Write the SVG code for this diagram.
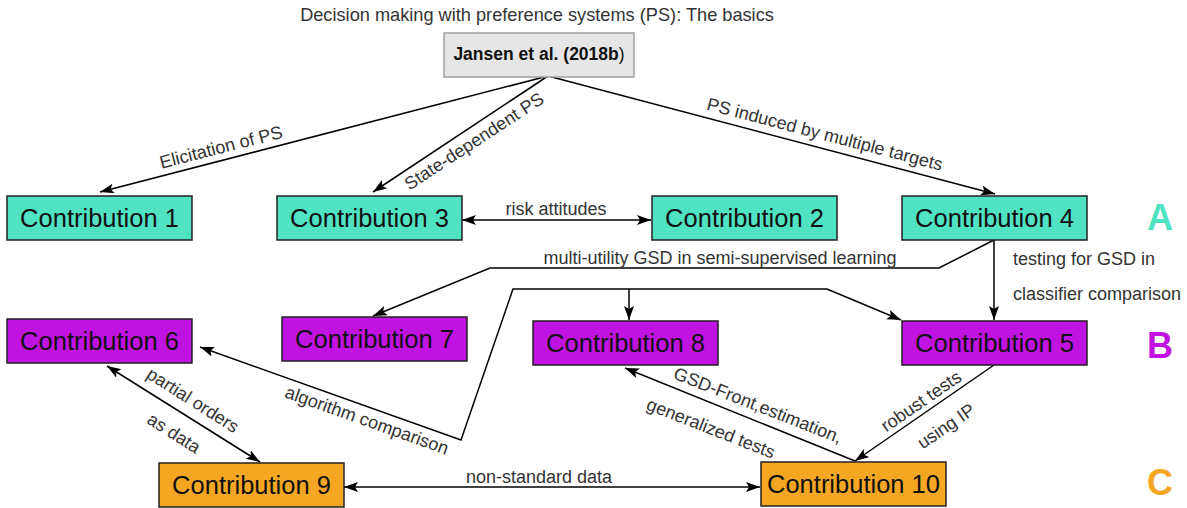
<svg xmlns="http://www.w3.org/2000/svg" width="1187" height="508" viewBox="0 0 1187 508">
<style>
text{font-family:"Liberation Sans",Arial,sans-serif}
.title{font-size:18.2px;fill:#333}
.lbl{font-size:18px;fill:#333}
.nt{font-size:25.5px;fill:#111;text-anchor:middle}
.box{stroke:#222;stroke-width:1.5}
.t{fill:#50e3c2}.p{fill:#c012e0}.o{fill:#f5a623}
.edge{fill:none;stroke:#000;stroke-width:1.5}
.big{font-size:36px;font-weight:bold}
</style>
<defs>
<marker id="ah" markerUnits="userSpaceOnUse" markerWidth="15" markerHeight="11" refX="14" refY="5" orient="auto-start-reverse" viewBox="0 0 15 11">
<path d="M0,0 L14,5 L0,10 L3,5 z" fill="#000"/>
</marker>
</defs>
<rect width="1187" height="508" fill="#fff"/>
<text class="title" x="537" y="21" text-anchor="middle">Decision making with preference systems (PS): The basics</text>

<g id="connectors">
<path class="edge" d="M548,76 L100,192" marker-end="url(#ah)"/>
<path class="edge" d="M548,76 L373,192" marker-end="url(#ah)"/>
<path class="edge" d="M548,76 L995,194" marker-end="url(#ah)"/>
<path class="edge" d="M462,220 L651,220" marker-start="url(#ah)" marker-end="url(#ah)"/>
<path class="edge" d="M994,240 L994,320" marker-end="url(#ah)"/>
<path class="edge" d="M994,240 L939,268 L490,268 L373,316" marker-end="url(#ah)"/>
<path class="edge" d="M200,347 L461,440 L513,289 L827,289 L901,320" marker-start="url(#ah)" marker-end="url(#ah)"/>
<path class="edge" d="M629,289 L629,320" marker-end="url(#ah)"/>
<path class="edge" d="M994,365 L855,461" marker-end="url(#ah)"/>
<path class="edge" d="M855,461 L625,368" marker-end="url(#ah)"/>
<path class="edge" d="M107,366 L260,462" marker-start="url(#ah)" marker-end="url(#ah)"/>
<path class="edge" d="M344,487 L760,487" marker-start="url(#ah)" marker-end="url(#ah)"/>

<g class="lbl" text-anchor="middle">
<text x="221" y="147" dy=".35em" transform="rotate(-14.4 221 147)">Elicitation of PS</text>
<text x="474" y="141" dy=".35em" transform="rotate(-33.2 474 141)">State-dependent PS</text>
<text x="825" y="134" dy=".35em" transform="rotate(14.6 825 134)">PS induced by multiple targets</text>
<text x="556" y="215">risk attitudes</text>
<text x="720" y="264">multi-utility GSD in semi-supervised learning</text>
<text x="367" y="420" dy=".35em" transform="rotate(19.6 367 420)">algorithm comparison</text>
<text x="193" y="400" dy=".35em" transform="rotate(32.4 193 400)">partial orders</text>
<text x="174" y="433" dy=".35em" transform="rotate(32.4 174 433)">as data</text>
<text x="758" y="405" dy=".35em" transform="rotate(21.4 758 405)">GSD-Front,estimation,</text>
<text x="711" y="428" dy=".35em" transform="rotate(21.4 711 428)">generalized tests</text>
<text x="921" y="401" dy=".35em" transform="rotate(-34.5 921 401)">robust tests</text>
<text x="946" y="426" dy=".35em" transform="rotate(-34.5 946 426)">using IP</text>
<text x="539" y="483">non-standard data</text>
</g>
<text class="lbl" x="1013" y="265">testing for GSD in</text>
<text class="lbl" x="1013" y="300">classifier comparison</text>
</g>

<g id="jansen">
<rect x="444" y="33" width="190" height="44" fill="#e6e6e6" stroke="#a0a0a0" stroke-width="1.5"/>
<text x="539" y="60" text-anchor="middle" font-size="17.5" fill="#111"><tspan font-weight="bold">Jansen et al. (2018b</tspan>)</text>
</g>
<g id="c1"><rect class="box t" x="7" y="196" width="185" height="44"/><text class="nt" x="99.5" y="227">Contribution 1</text></g>
<g id="c3"><rect class="box t" x="277" y="196" width="185" height="44"/><text class="nt" x="369.5" y="227">Contribution 3</text></g>
<g id="c2"><rect class="box t" x="652" y="196" width="185" height="44"/><text class="nt" x="744.5" y="227">Contribution 2</text></g>
<g id="c4"><rect class="box t" x="902" y="196" width="185" height="44"/><text class="nt" x="994.5" y="227">Contribution 4</text></g>
<g id="c6"><rect class="box p" x="7" y="319" width="185" height="44"/><text class="nt" x="99.5" y="350">Contribution 6</text></g>
<g id="c7"><rect class="box p" x="282" y="317" width="185" height="44"/><text class="nt" x="374.5" y="348">Contribution 7</text></g>
<g id="c8"><rect class="box p" x="533" y="321" width="185" height="44"/><text class="nt" x="625.5" y="352">Contribution 8</text></g>
<g id="c5"><rect class="box p" x="902" y="321" width="185" height="44"/><text class="nt" x="994.5" y="352">Contribution 5</text></g>
<g id="c9"><rect class="box o" x="159" y="463" width="185" height="44"/><text class="nt" x="251.5" y="494">Contribution 9</text></g>
<g id="c10"><rect class="box o" x="761" y="462" width="185" height="44"/><text class="nt" x="853.5" y="493">Contribution 10</text></g>

<g id="legend">
<text class="big t" x="1160" y="230" text-anchor="middle">A</text>
<text class="big p" x="1160" y="358" text-anchor="middle">B</text>
<text class="big o" x="1160" y="495" text-anchor="middle">C</text>
</g>
</svg>
